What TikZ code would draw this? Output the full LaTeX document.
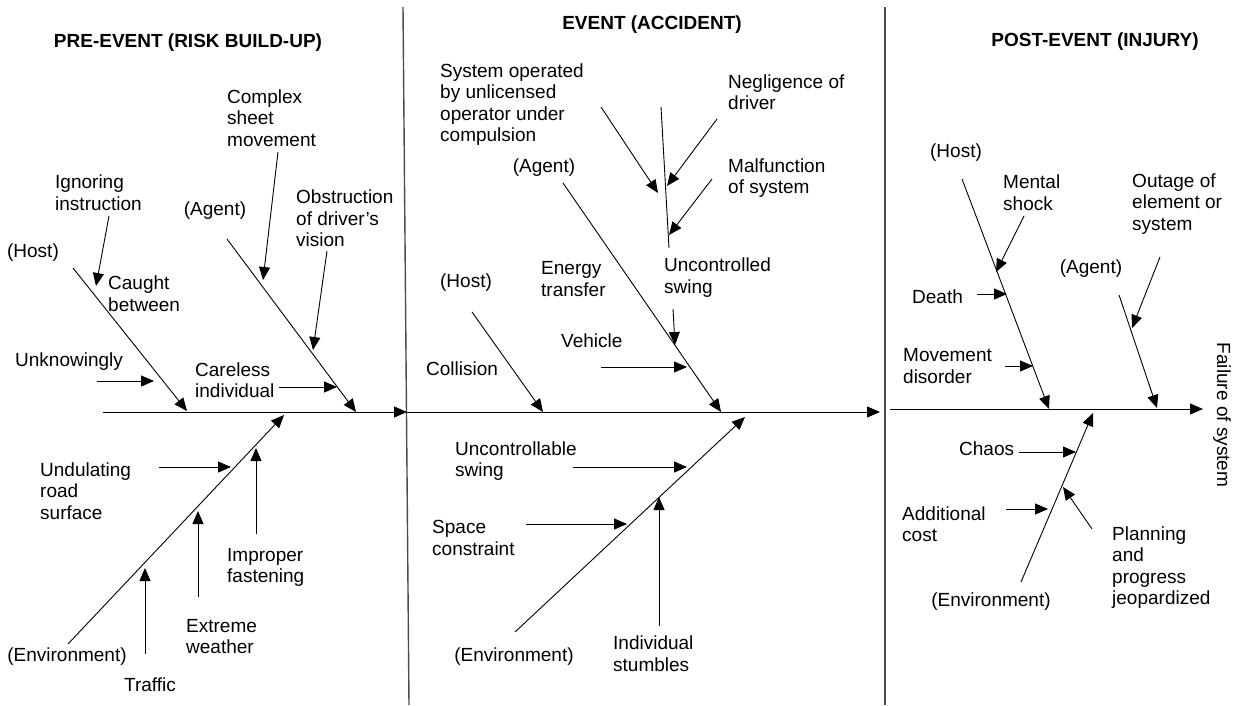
\documentclass[tikz,border=0pt]{standalone}
\usepackage{fontspec}
\setmainfont{Liberation Sans}
\usetikzlibrary{arrows.meta}
\begin{document}
\begin{tikzpicture}[x=1pt,y=-1pt,
  lbl/.style={font=\fontsize{19}{21.5}\selectfont, align=left, anchor=west, inner sep=0pt},
  tag/.style={font=\fontsize{19}{21.5}\selectfont, inner sep=0pt},
  ttl/.style={font=\bfseries\fontsize{19}{22}\selectfont, inner sep=0pt},
  bone/.style={line width=0.9pt, -{Triangle[length=13pt,width=11pt]}},
  plain/.style={line width=0.9pt},
  sepline/.style={line width=1.4pt, draw=black!70}]
\useasboundingbox (0,0) rectangle (1241,706);
% separators
\coordinate (s1t) at (403,7); \coordinate (s1b) at (409,705);
\coordinate (s2t) at (885,7); \coordinate (s2b) at (885,705);
\draw[sepline] (s1t) -- (s1b);
\draw[sepline] (s2t) -- (s2b);
% titles
\node[ttl] (t1) at (188,43) {PRE-EVENT (RISK BUILD-UP)};
\node[ttl] (t2) at (652,25) {EVENT (ACCIDENT)};
\node[ttl] (t3) at (1095,42) {POST-EVENT (INJURY)};
\node[tag, rotate=-90] (fail) at (1222,415) {Failure of system};

% ===== PRE-EVENT =====
\coordinate (sp1a) at (103,412); \coordinate (sp1b) at (407,412);
\draw[bone] (sp1a) -- (sp1b);
\node[tag] (host1) at (33,253) {(Host)};
\node[lbl] (ign) at (55,192.5) {Ignoring\\instruction};
\node[lbl] (caught) at (108,293.5) {Caught\\between};
\node[lbl] (unk) at (15,362) {Unknowingly};
\node[lbl] (care) at (195,380) {Careless\\individual};
\node[tag] (agent1) at (215,211) {(Agent)};
\node[lbl] (cplx) at (227,118) {Complex\\sheet\\movement};
\node[lbl] (obst) at (296,218.5) {Obstruction\\of driver’s\\vision};
\node[tag] (env1) at (67,657) {(Environment)};
\node[lbl] (und) at (40,491) {Undulating\\road\\surface};
\node[lbl] (impr) at (227,567.5) {Improper\\fastening};
\node[lbl] (extr) at (186,636.5) {Extreme\\weather};
\node[lbl] (traf) at (124,685) {Traffic};

\coordinate (h1a) at (73,268); \coordinate (h1b) at (187,411);
\draw[bone] (h1a) -- (h1b);
\coordinate (ig1) at (109,216); \coordinate (ig2) at (96,286);
\draw[bone] (ig1) -- (ig2);
\coordinate (un1) at (97,381); \coordinate (un2) at (154,381);
\draw[bone] (un1) -- (un2);
\coordinate (ca1) at (279,387); \coordinate (ca2) at (337,387);
\draw[bone] (ca1) -- (ca2);
\coordinate (a1a) at (227,239); \coordinate (a1b) at (356,412);
\draw[bone] (a1a) -- (a1b);
\coordinate (cp1) at (278,152); \coordinate (cp2) at (263,280);
\draw[bone] (cp1) -- (cp2);
\coordinate (ob1) at (327,251); \coordinate (ob2) at (313,350);
\draw[bone] (ob1) -- (ob2);
\coordinate (e1a) at (68,644); \coordinate (e1b) at (284,415);
\draw[bone] (e1a) -- (e1b);
\coordinate (ud1) at (159,467); \coordinate (ud2) at (231,467);
\draw[bone] (ud1) -- (ud2);
\coordinate (im1) at (256,534); \coordinate (im2) at (256,448);
\draw[bone] (im1) -- (im2);
\coordinate (ex1) at (198,597); \coordinate (ex2) at (198,511);
\draw[bone] (ex1) -- (ex2);
\coordinate (tr1) at (145,654); \coordinate (tr2) at (145,568);
\draw[bone] (tr1) -- (tr2);

% ===== EVENT =====
\coordinate (sp2a) at (407,412); \coordinate (sp2b) at (880,412);
\draw[bone] (sp2a) -- (sp2b);
\node[lbl] (sys) at (440,104.5) {System operated\\by unlicensed\\operator under\\compulsion};
\node[lbl] (negl) at (728,92) {Negligence of\\driver};
\node[lbl] (malf) at (728,178) {Malfunction\\of system};
\node[lbl] (uncs) at (664,277.5) {Uncontrolled\\swing};
\node[tag] (agent2) at (544,168) {(Agent)};
\node[lbl] (energy) at (541,279) {Energy\\transfer};
\node[lbl] (veh) at (561,341) {Vehicle};
\node[tag] (host2) at (466,283) {(Host)};
\node[lbl] (coll) at (426,369) {Collision};
\node[lbl] (uncab) at (455,461) {Uncontrollable\\swing};
\node[lbl] (space) at (432,538) {Space\\constraint};
\node[lbl] (indiv) at (613,653.5) {Individual\\stumbles};
\node[tag] (env2) at (514,657) {(Environment)};

\coordinate (sy1) at (601,107); \coordinate (sy2) at (658,193);
\draw[bone] (sy1) -- (sy2);
\coordinate (sw1) at (661,107); \coordinate (sw2) at (669,248);
\draw[plain] (sw1) -- (sw2);
\coordinate (ng1) at (717,119); \coordinate (ng2) at (667,186);
\draw[bone] (ng1) -- (ng2);
\coordinate (mf1) at (712,179); \coordinate (mf2) at (669,235);
\draw[bone] (mf1) -- (mf2);
\coordinate (us1) at (673,309); \coordinate (us2) at (675,345);
\draw[bone] (us1) -- (us2);
\coordinate (a2a) at (563,183); \coordinate (a2b) at (721,412);
\draw[bone] (a2a) -- (a2b);
\coordinate (ve1) at (601,367); \coordinate (ve2) at (687,367);
\draw[bone] (ve1) -- (ve2);
\coordinate (h2a) at (472,312); \coordinate (h2b) at (543,412);
\draw[bone] (h2a) -- (h2b);
\coordinate (e2a) at (515,632); \coordinate (e2b) at (745,417);
\draw[bone] (e2a) -- (e2b);
\coordinate (ub1) at (573,467); \coordinate (ub2) at (687,467);
\draw[bone] (ub1) -- (ub2);
\coordinate (sc1) at (526,524); \coordinate (sc2) at (627,524);
\draw[bone] (sc1) -- (sc2);
\coordinate (in1) at (659,626); \coordinate (in2) at (659,497);
\draw[bone] (in1) -- (in2);

% ===== POST-EVENT =====
\coordinate (sp3a) at (890,409); \coordinate (sp3b) at (1203,409);
\draw[bone] (sp3a) -- (sp3b);
\node[tag] (host3) at (956,153) {(Host)};
\node[lbl] (mental) at (1003,192.5) {Mental\\shock};
\node[lbl] (death) at (912,297) {Death};
\node[lbl] (move) at (903,366) {Movement\\disorder};
\node[lbl] (outage) at (1132,204) {Outage of\\element or\\system};
\node[tag] (agent3) at (1091,269) {(Agent)};
\node[lbl] (chaos) at (959,449) {Chaos};
\node[lbl] (addl) at (902,524) {Additional\\cost};
\node[lbl] (plan) at (1112,567.5) {Planning\\and\\progress\\jeopardized};
\node[tag] (env3) at (991,602) {(Environment)};

\coordinate (h3a) at (962,179); \coordinate (h3b) at (1049,409);
\draw[bone] (h3a) -- (h3b);
\coordinate (ms1) at (1024,216); \coordinate (ms2) at (996,272);
\draw[bone] (ms1) -- (ms2);
\coordinate (de1) at (977,294); \coordinate (de2) at (1007,294);
\draw[bone] (de1) -- (de2);
\coordinate (mv1) at (1005,366); \coordinate (mv2) at (1033,366);
\draw[bone] (mv1) -- (mv2);
\coordinate (ou1) at (1160,257); \coordinate (ou2) at (1132,328);
\draw[bone] (ou1) -- (ou2);
\coordinate (a3a) at (1119,295); \coordinate (a3b) at (1157,408);
\draw[bone] (a3a) -- (a3b);
\coordinate (e3a) at (1021,582); \coordinate (e3b) at (1093,413);
\draw[bone] (e3a) -- (e3b);
\coordinate (ch1) at (1019,452); \coordinate (ch2) at (1076,452);
\draw[bone] (ch1) -- (ch2);
\coordinate (ad1) at (1006,509); \coordinate (ad2) at (1048,509);
\draw[bone] (ad1) -- (ad2);
\coordinate (pl1) at (1092,529); \coordinate (pl2) at (1063,487);
\draw[bone] (pl1) -- (pl2);
\end{tikzpicture}
\end{document}
